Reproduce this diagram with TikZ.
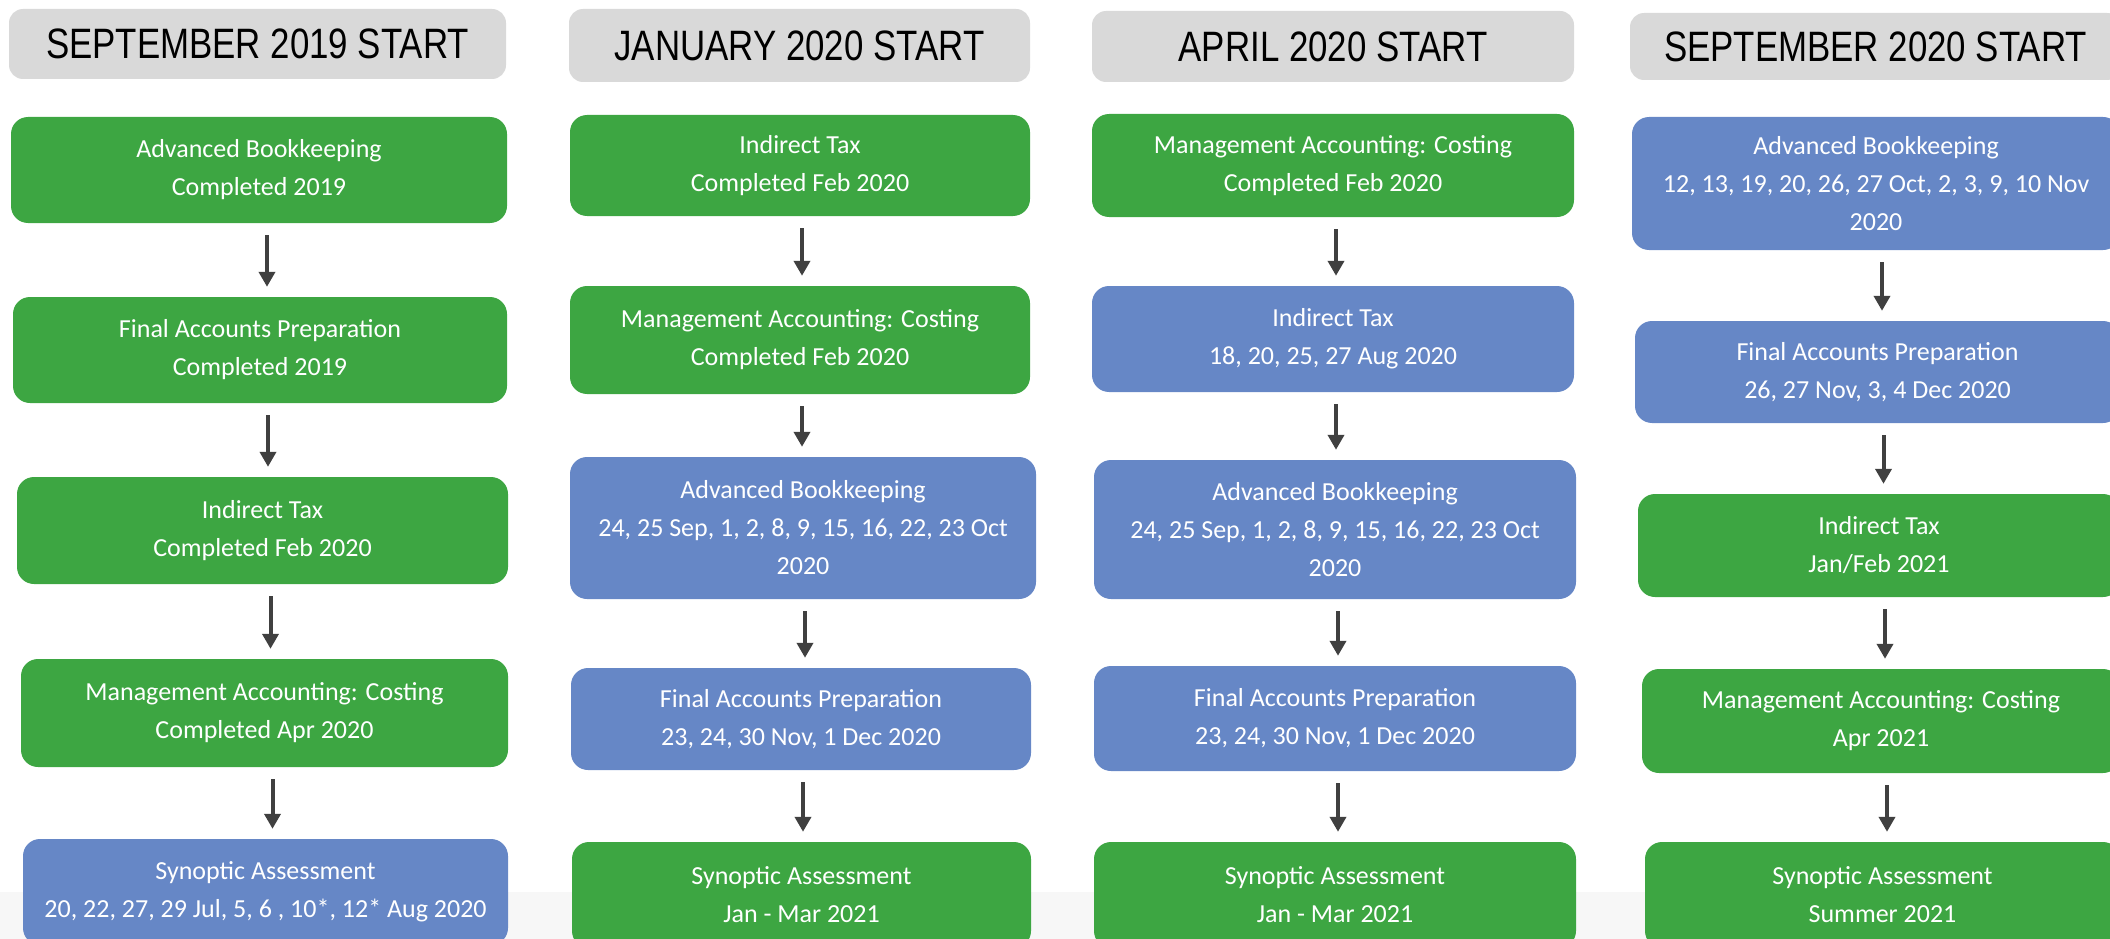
\documentclass[tikz,border=0pt]{standalone}
\usepackage{fontspec}
\setmainfont{Carlito}
\newfontfamily\headfont[FakeStretch=0.82]{Liberation Sans}
\usetikzlibrary{arrows.meta}
\definecolor{donegreen}{HTML}{3DA642}
\definecolor{dueblue}{HTML}{6687C6}
\definecolor{headgray}{HTML}{D9D9D9}
\definecolor{arrowgray}{HTML}{404040}
\begin{document}
\begin{tikzpicture}[x=1pt,y=-1pt]
    \tikzstyle{head} = [fill=headgray, rounded corners=14pt, inner sep=0pt, text=black, font=\headfont\fontsize{42.5}{42.5}\selectfont]
    \tikzstyle{unit} = [rounded corners=17pt, inner sep=0pt, align=center, text=white, font=\fontsize{26}{38}\selectfont]
    \tikzstyle{done} = [unit, fill=donegreen]
    \tikzstyle{due} = [unit, fill=dueblue]
    \tikzstyle{arrow} = [line width=4pt, draw=arrowgray, -{Triangle[width=16pt,length=15pt,fill=arrowgray]}, shorten <=12pt, shorten >=10pt]

    \useasboundingbox (0,0) rectangle (2110,939);
    \clip (0,0) rectangle (2110,939);
    \fill[black!3] (0,892) rectangle (2110,939);

    % September 2019 start
    \node[head, minimum width=497pt, minimum height=70pt] (sep19-0) at (257.5,44) {SEPTEMBER 2019 START};
    \node[done, minimum width=496pt, minimum height=106pt] (sep19-1) at (259,170) {Advanced Bookkeeping\\Completed 2019};
    \node[done, minimum width=494pt, minimum height=106pt] (sep19-2) at (260,350) {Final Accounts Preparation\\Completed 2019};
    \node[done, minimum width=491pt, minimum height=107pt] (sep19-3) at (262.5,530.5) {Indirect Tax\\Completed Feb 2020};
    \node[done, minimum width=487pt, minimum height=108pt] (sep19-4) at (264.5,713) {Management Accounting: Costing\\Completed Apr 2020};
    \node[due, minimum width=485pt, minimum height=106pt] (sep19-5) at (265.5,892) {Synoptic Assessment\\20, 22, 27, 29 Jul, 5, 6 , 10*, 12* Aug 2020};

    % January 2020 start
    \node[head, minimum width=461pt, minimum height=73pt] (jan20-0) at (799.5,45.5) {JANUARY 2020 START};
    \node[done, minimum width=460pt, minimum height=101pt] (jan20-1) at (800,165.5) {Indirect Tax\\Completed Feb 2020};
    \node[done, minimum width=460pt, minimum height=108pt] (jan20-2) at (800,340) {Management Accounting: Costing\\Completed Feb 2020};
    \node[due, minimum width=466pt, minimum height=142pt] (jan20-3) at (803,528) {Advanced Bookkeeping\\24, 25 Sep, 1, 2, 8, 9, 15, 16, 22, 23 Oct\\2020};
    \node[due, minimum width=460pt, minimum height=102pt] (jan20-4) at (801,719) {Final Accounts Preparation\\23, 24, 30 Nov, 1 Dec 2020};
    \node[done, minimum width=459pt, minimum height=106pt] (jan20-5) at (801.5,895) {Synoptic Assessment\\Jan - Mar 2021};

    % April 2020 start
    \node[head, minimum width=482pt, minimum height=71pt] (apr20-0) at (1333,46.5) {APRIL 2020 START};
    \node[done, minimum width=482pt, minimum height=103pt] (apr20-1) at (1333,165.5) {Management Accounting: Costing\\Completed Feb 2020};
    \node[due, minimum width=482pt, minimum height=106pt] (apr20-2) at (1333,339) {Indirect Tax\\18, 20, 25, 27 Aug 2020};
    \node[due, minimum width=482pt, minimum height=139pt] (apr20-3) at (1335,529.5) {Advanced Bookkeeping\\24, 25 Sep, 1, 2, 8, 9, 15, 16, 22, 23 Oct\\2020};
    \node[due, minimum width=482pt, minimum height=105pt] (apr20-4) at (1335,718.5) {Final Accounts Preparation\\23, 24, 30 Nov, 1 Dec 2020};
    \node[done, minimum width=482pt, minimum height=106pt] (apr20-5) at (1335,895) {Synoptic Assessment\\Jan - Mar 2021};

    % September 2020 start
    \node[head, minimum width=491pt, minimum height=67pt] (sep20-0) at (1875.5,46.5) {SEPTEMBER 2020 START};
    \node[due, minimum width=488pt, minimum height=133pt] (sep20-1) at (1876,183.5) {Advanced Bookkeeping\\12, 13, 19, 20, 26, 27 Oct, 2, 3, 9, 10 Nov\\2020};
    \node[due, minimum width=485pt, minimum height=102pt] (sep20-2) at (1877.5,372) {Final Accounts Preparation\\26, 27 Nov, 3, 4 Dec 2020};
    \node[done, minimum width=482pt, minimum height=103pt] (sep20-3) at (1879,545.5) {Indirect Tax\\Jan/Feb 2021};
    \node[done, minimum width=478pt, minimum height=104pt] (sep20-4) at (1881,721) {Management Accounting: Costing\\Apr 2021};
    \node[done, minimum width=475pt, minimum height=106pt] (sep20-5) at (1882.5,895) {Synoptic Assessment\\Summer 2021};

    \foreach \col/\dx in {sep19/8,jan20/2,apr20/3,sep20/6}
        \foreach \i/\j in {1/2,2/3,3/4,4/5}
            \draw[arrow] ([xshift=\dx pt]\col-\i.south) -- ([xshift=\dx pt]\col-\i.south |- \col-\j.north);
\end{tikzpicture}
\end{document}
